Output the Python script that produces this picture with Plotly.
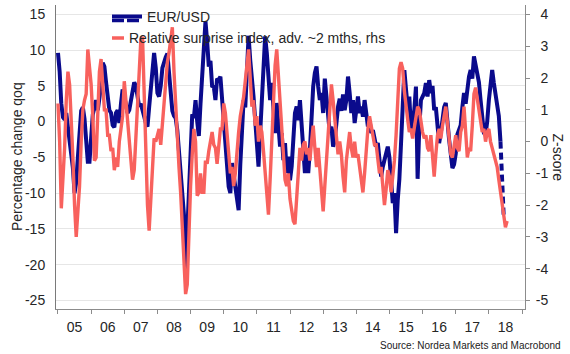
import numpy as np
import plotly.graph_objects as go

# EUR/USD, % change q/q (left axis), 20 readings per year starting Jan 2005
eur_2005 = [9.6, 7.0, 2.5, 0.6, 0.3, 1.2, -0.8, -2.6, -4.5, -6.5, -10.0, -8.5, -5.0, -1.5, 1.5, 2.0, 0.4, -2.6, -5.6, -5.6]
eur_2006 = [-2.6, 1.0, 2.0, 3.0, 1.6, 3.5, 5.0, 8.2, 7.7, 5.5, 4.0, 1.6, 1.2, -0.5, -0.8, 1.2, 1.6, -0.2, 2.5, 4.5]
eur_2007 = [3.5, 2.0, 1.2, 1.6, 3.0, 4.0, 5.5, 5.0, 3.0, 2.1, 2.5, 1.8, 0.7, -0.2, -0.7, 2.0, 5.0, 7.7, 9.6, 7.5]
eur_2008 = [4.0, 3.5, 5.0, 7.5, 8.4, 9.0, 9.5, 7.0, 4.5, 1.5, 0.8, 0.5, -1.2, -4.0, -6.0, -9.0, -13.0, -21.0, -15.6, -11.0]
eur_2009 = [-4.5, 1.0, 0.5, 3.0, 0.0, -2.0, 2.5, 6.8, 12.0, 14.0, 11.2, 7.7, 8.5, 5.0, 4.9, 3.0, 6.0, 5.8, 6.3, 3.0]
eur_2010 = [-0.5, -2.5, -6.5, -9.1, -10.0, -5.8, -7.5, -9.1, -11.0, -12.4, -6.0, -0.7, 3.0, 2.0, 7.5, 12.0, 8.6, 6.3, 3.5, 0.2]
eur_2011 = [-3.5, -6.3, -1.6, 3.0, 7.7, 11.9, 9.6, 5.4, 3.0, 5.4, 1.2, -1.6, 2.6, -0.7, -3.5, -1.6, -5.4, -3.0, -7.2, -4.9]
eur_2012 = [-8.2, -6.3, -2.6, 1.2, 2.1, 0.2, 3.0, -0.7, -5.4, -7.2, -4.4, -7.2, -4.0, 0.7, 4.9, 6.8, 7.7, 4.9, 3.0, 4.0]
eur_2013 = [1.2, 6.0, 3.0, 0.2, -1.6, -0.7, -3.5, -2.6, 0.2, 2.1, 3.2, 1.5, 3.8, 1.6, 3.0, 6.3, 4.0, 1.2, 3.0, -0.2]
eur_2014 = [1.6, 3.5, 1.2, 2.1, 0.7, 3.0, 1.2, -0.7, 0.2, -1.6, -1.2, -2.6, -3.5, -3.0, -5.4, -7.7, -6.3, -5.4, -4.4, -3.5]
eur_2015 = [-5.0, -8.5, -11.4, -10.0, -15.6, -11.0, -8.0, -3.0, 3.0, 7.2, 4.5, 2.0, 3.5, -1.0, 0.5, 1.6, 4.9, -8.0, -1.0, 3.0]
eur_2016 = [3.5, 4.0, 5.4, 3.5, 5.8, 4.0, 5.0, 1.6, 2.0, 0.0, -3.0, -1.6, 0.5, 2.0, 2.6, -0.5, -2.5, -4.5, -6.5, -6.0]
eur_2017 = [-4.5, -1.8, -1.0, -0.5, 2.0, 4.0, 2.5, 4.9, 6.3, 7.2, 6.0, 9.1, 7.7, 7.0, 5.5, 3.0, 0.5, -1.6, -1.8, 0.0]
eur_2018 = [3.0, 6.0, 7.2, 5.4, 4.0, 2.5, 0.8, -2.8]

# EUR/USD dashed tail
eur_tail_years = [2018.35, 2018.40, 2018.45]
eur_tail_vals = [-2.8, -8.2, -13.5]

# Relative surprise index, advanced ~2 months, z-score (right axis)
rsi_2005 = [1.2, 0.0, -2.1, -1.2, -0.2, 1.3, 2.2, 1.8, 0.8, -0.5, -2.0, -3.0, -2.2, -1.4, 0.0, 1.0, 1.3, 1.5, 2.9, 2.4]
rsi_2006 = [1.8, 0.8, -0.6, -0.5, 1.0, 2.2, 2.6, 1.8, 1.0, 1.0, 0.2, 0.2, -0.3, -0.2, -0.9, -0.5, -0.8, 0.0, 0.4, 0.8]
rsi_2007 = [1.9, 1.3, 0.6, -0.1, -0.8, -1.2, -0.9, 0.2, 1.1, 2.1, 3.2, 3.3, 1.5, -0.6, -2.0, -2.8, -1.8, -0.4, 0.1, 0.0]
rsi_2008 = [0.2, 0.4, -0.1, 0.6, 1.4, 1.9, 2.5, 2.8, 3.3, 3.6, 2.2, 1.0, 0.0, -0.8, -1.6, -2.6, -3.6, -4.8, -4.5, -2.8]
rsi_2009 = [-1.4, -0.4, 0.4, 0.0, -1.7, -1.6, -1.0, -1.6, -1.6, -0.6, -0.7, -0.3, 0.0, 0.3, -0.1, -0.2, -0.7, -0.1, 0.4, 0.4]
rsi_2010 = [1.2, 0.9, 0.3, -0.4, -1.0, -0.8, -1.4, -1.0, -0.2, 0.3, 0.8, 1.1, 1.4, 1.9, 2.4, 2.9, 2.0, 1.1, 1.3, 0.5]
rsi_2011 = [0.8, 0.0, 0.5, 0.3, -0.3, -1.1, -1.8, -2.3, -1.2, 0.0, 1.3, 2.4, 2.9, 2.0, 1.3, 0.5, -0.4, -1.2, -1.4, -1.0]
rsi_2012 = [-1.8, -2.1, -2.5, -2.6, -1.8, -0.8, -0.2, -0.6, -0.1, 0.0, -0.4, -0.2, -0.6, 0.0, 0.5, -0.2, -0.8, -0.2, -1.0, -1.8]
rsi_2013 = [-2.2, -1.4, -0.6, 0.5, 1.4, 1.8, 1.3, 0.7, 0.2, -0.4, 0.0, -0.4, -1.1, -1.6, -0.6, 0.0, 0.3, -0.2, -0.5, 0.0]
rsi_2014 = [-0.5, -0.4, -0.8, -1.4, -1.6, -1.0, -0.2, 0.4, 0.8, 0.5, 0.3, -0.1, -0.1, -0.5, -1.0, -0.8, -1.3, -2.0, -1.5, -0.9]
rsi_2015 = [-1.1, -1.6, -1.1, -0.6, 0.2, 1.3, 2.3, 2.5, 2.3, 1.6, 1.0, 0.7, 0.3, 0.4, 0.1, 0.4, 0.8, 1.1, 1.0, 0.6]
rsi_2016 = [0.3, 0.1, 0.2, -0.2, -0.3, 0.2, -0.6, -1.1, -0.4, 0.2, 0.4, 0.1, 0.5, 0.9, 1.1, 0.6, 0.0, -0.4, -0.5, -0.1]
rsi_2017 = [0.2, -0.2, -0.3, 0.3, 0.5, 1.1, 0.4, -0.5, -0.2, -0.3, 0.5, 1.5, 1.7, 1.3, 1.1, 0.7, 0.3, 0.4, 0.0, 0.3]
rsi_2018 = [0.4, 0.0, -0.2, -0.5, -0.6, -0.8, -1.2, -1.6, -2.1, -2.4, -2.7, -2.5]

year_labels = ["05", "06", "07", "08", "09", "10", "11", "12", "13", "14", "15", "16", "17", "18"]
left_ticks = [-25, -20, -15, -10, -5, 0, 5, 10, 15]
left_ticktext = ["-25", "-20", "-15", "-10", "-5", "0", "5", "10", "15"]
right_ticks = [-5, -4, -3, -2, -1, 0, 1, 2, 3, 4]
right_ticktext = ["-5", "-4", "-3", "-2", "-1", "\u20040", "\u20041", "\u20042", "\u20043", "\u20044"]

eur_usd = (eur_2005 + eur_2006 + eur_2007 + eur_2008 + eur_2009 + eur_2010 + eur_2011
           + eur_2012 + eur_2013 + eur_2014 + eur_2015 + eur_2016 + eur_2017 + eur_2018)
surprise = (rsi_2005 + rsi_2006 + rsi_2007 + rsi_2008 + rsi_2009 + rsi_2010 + rsi_2011
            + rsi_2012 + rsi_2013 + rsi_2014 + rsi_2015 + rsi_2016 + rsi_2017 + rsi_2018)
eur_years = 2005 + 0.05 * np.arange(len(eur_usd))
rsi_years = 2005 + 0.05 * np.arange(len(surprise))

BLUE = "#0A0A8C"
RED = "#F8615D"
FONT = "Liberation Sans"
TXT = "#262626"

fig = go.Figure()
fig.add_trace(go.Scatter(x=rsi_years, y=surprise, yaxis="y2", mode="lines",
                         line=dict(color=RED, width=3.4), showlegend=False))
fig.add_trace(go.Scatter(x=eur_years, y=eur_usd, mode="lines",
                         line=dict(color=BLUE, width=4), showlegend=False))
fig.add_trace(go.Scatter(x=eur_tail_years, y=eur_tail_vals, mode="lines",
                         line=dict(color=BLUE, width=4, dash="7px,4px"), showlegend=False))
# label axis helper trace
fig.add_trace(go.Scatter(x=[None], y=[None], xaxis="x2", showlegend=False, hoverinfo="skip"))

# legend entries
fig.add_trace(go.Scatter(x=[None], y=[None], mode="lines", name="EUR/USD",
                         line=dict(color=BLUE, width=4), legend="legend"))
fig.add_trace(go.Scatter(x=[None], y=[None], mode="lines", name=" ",
                         line=dict(color=BLUE, width=3.5, dash="12px,3px"), legend="legend2"))
fig.add_trace(go.Scatter(x=[None], y=[None], mode="lines",
                         name="Relative surprise index, adv. ~2 mths, rhs",
                         line=dict(color=RED, width=3.4, dash="0px,18px,13px,80px"), legend="legend3"))

legend_common = dict(xref="container", yref="container", xanchor="left", yanchor="top",
                     bgcolor="rgba(0,0,0,0)", borderwidth=0,
                     font=dict(family=FONT, size=14, color=TXT))

xr = [2004.94, 2019.09]
fig.update_layout(
    width=570, height=354,
    margin=dict(l=56, r=45, t=5, b=45, autoexpand=False),
    paper_bgcolor="white", plot_bgcolor="white",
    font=dict(family=FONT, size=14, color=TXT),
    legend=dict(x=107 / 570, y=1 - 0.9 / 354, **legend_common),
    legend2=dict(x=107 / 570, y=1 - 4.9 / 354, **legend_common),
    legend3=dict(x=89 / 570, y=1 - 22.4 / 354, **legend_common),
    xaxis=dict(range=xr, tickmode="array", tickvals=list(range(2005, 2020)),
               showticklabels=False, ticks="outside", ticklen=4, tickcolor="#8c8c8c",
               showline=True, linecolor="#8c8c8c", linewidth=1, showgrid=False, zeroline=False),
    xaxis2=dict(range=xr, overlaying="x", anchor="y", side="bottom",
                tickmode="array", tickvals=[2005.5 + i for i in range(14)], ticktext=year_labels,
                ticks="", showline=False, showgrid=False, zeroline=False,
                ticklabelstandoff=8, tickfont=dict(family=FONT, size=14, color=TXT)),
    yaxis=dict(range=[-26.2, 16.3], tickmode="array", tickvals=left_ticks, ticktext=left_ticktext,
               ticks="", showline=True, linecolor="#7a7a7a", linewidth=1,
               showgrid=True, gridcolor="#e6e6e6", gridwidth=1, zeroline=False,
               ticklabelstandoff=7, tickfont=dict(family=FONT, size=14, color=TXT)),
    yaxis2=dict(range=[-5.27, 4.3], overlaying="y", side="right", anchor="x",
                tickmode="array", tickvals=right_ticks, ticktext=right_ticktext,
                ticks="outside", ticklen=4, tickcolor="#8c8c8c",
                showline=True, linecolor="#8c8c8c", linewidth=1,
                showgrid=False, zeroline=False, ticklabelstandoff=3,
                tickfont=dict(family=FONT, size=14, color=TXT)),
    annotations=[
        dict(text="Percentage change qoq", xref="paper", yref="paper", x=(17 - 56) / 469, y=0.5,
             xanchor="center", yanchor="middle", textangle=-90, showarrow=False,
             font=dict(family=FONT, size=14, color=TXT)),
        dict(text="Z-score", xref="paper", yref="paper", x=(557.5 - 56) / 469, y=0.5,
             xanchor="center", yanchor="middle", textangle=90, showarrow=False,
             font=dict(family=FONT, size=14, color=TXT)),
        dict(text="Source: Nordea Markets and Macrobond", xref="paper", yref="paper",
             x=(563 - 56) / 469, y=(309 - 345) / 304, xanchor="right", yanchor="middle",
             showarrow=False, font=dict(family=FONT, size=10, color="#222222")),
    ],
)

fig.write_html("out.html")
